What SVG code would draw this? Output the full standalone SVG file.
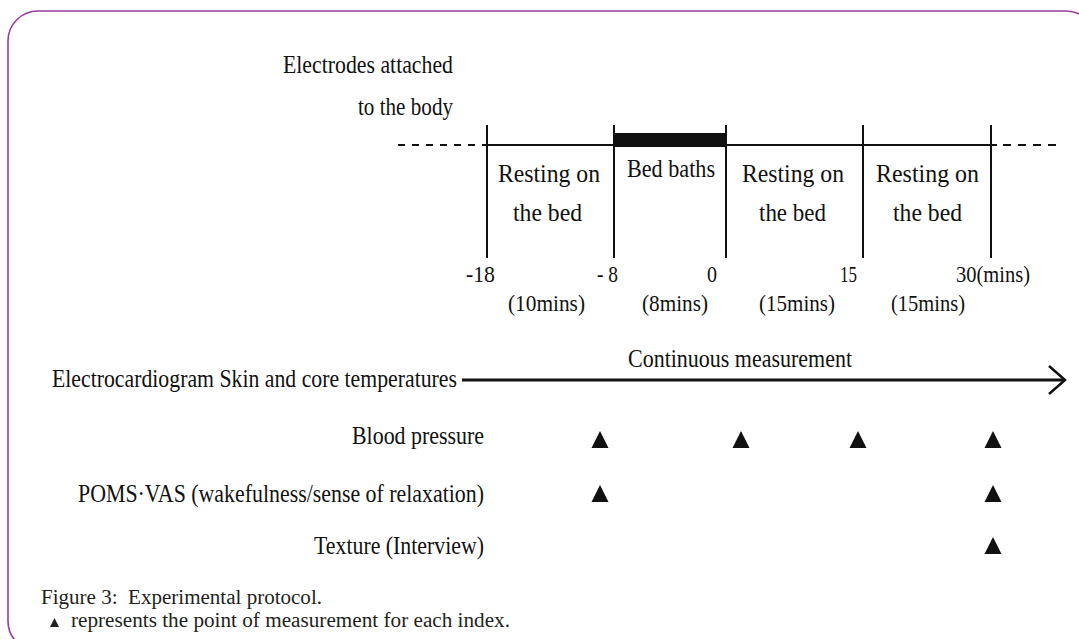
<svg xmlns="http://www.w3.org/2000/svg" width="1079" height="639" viewBox="0 0 1079 639">
<style>
  .t { font-family: "Liberation Serif", "Times New Roman", serif; font-size: 26px; fill: #111; }
  .n { font-family: "Liberation Serif", "Times New Roman", serif; font-size: 24px; fill: #111; }
  .cap { font-family: "Liberation Serif", "Times New Roman", serif; font-size: 20px; fill: #231f20; white-space: pre; }
  .ln { stroke: #111; stroke-width: 2; fill: none; }
  .dash { stroke: #111; stroke-width: 2; fill: none; }
  .tri { fill: #111; }
  .frame { fill: #fff; stroke: #9b3b9e; stroke-width: 1.6; }
</style>
<rect x="0" y="0" width="1079" height="639" fill="#fff"/>
<rect class="frame" x="8" y="11" width="1088" height="640" rx="30" ry="30"/>

<g id="connectors">
  <line class="dash" x1="398" y1="145" x2="487" y2="145" stroke-dasharray="7 7"/>
  <line class="dash" x1="1003" y1="145" x2="1062" y2="145" stroke-dasharray="8 7"/>
  <line class="ln" x1="487" y1="145" x2="997" y2="145"/>
  <rect x="614" y="133" width="112" height="14" fill="#111"/>
  <line class="ln" x1="487" y1="125" x2="487" y2="258"/>
  <line class="ln" x1="614" y1="125" x2="614" y2="258"/>
  <line class="ln" x1="726" y1="125" x2="726" y2="258"/>
  <line class="ln" x1="863" y1="125" x2="863" y2="258"/>
  <line class="ln" x1="991" y1="125" x2="991" y2="258"/>
  <line x1="462" y1="380" x2="1064" y2="380" stroke="#111" stroke-width="3"/>
  <polyline points="1049,366 1065,380 1049,394" fill="none" stroke="#111" stroke-width="2.5"/>
</g>

<g id="electrodes">
  <text class="t" x="283" y="73" textLength="170" lengthAdjust="spacingAndGlyphs">Electrodes attached</text>
  <text class="t" x="358" y="115" textLength="95" lengthAdjust="spacingAndGlyphs">to the body</text>
</g>

<g id="phase-rest1">
  <text class="t" x="498" y="182" textLength="102" lengthAdjust="spacingAndGlyphs">Resting on</text>
  <text class="t" x="513" y="221" textLength="69" lengthAdjust="spacingAndGlyphs">the bed</text>
</g>
<g id="phase-bath">
  <text class="t" x="627" y="177" textLength="88" lengthAdjust="spacingAndGlyphs">Bed baths</text>
</g>
<g id="phase-rest2">
  <text class="t" x="742" y="182" textLength="102" lengthAdjust="spacingAndGlyphs">Resting on</text>
  <text class="t" x="759" y="221" textLength="67" lengthAdjust="spacingAndGlyphs">the bed</text>
</g>
<g id="phase-rest3">
  <text class="t" x="876" y="182" textLength="103" lengthAdjust="spacingAndGlyphs">Resting on</text>
  <text class="t" x="893" y="221" textLength="69" lengthAdjust="spacingAndGlyphs">the bed</text>
</g>

<g id="ticks">
  <text class="n" x="466" y="282" textLength="29" lengthAdjust="spacingAndGlyphs">-18</text>
  <text class="n" x="597" y="282" textLength="21" lengthAdjust="spacingAndGlyphs">- 8</text>
  <text class="n" x="707" y="282" textLength="10" lengthAdjust="spacingAndGlyphs">0</text>
  <text class="n" x="840" y="282" textLength="17" lengthAdjust="spacingAndGlyphs">15</text>
  <text class="n" x="956" y="282" textLength="74" lengthAdjust="spacingAndGlyphs">30(mins)</text>
</g>
<g id="durations">
  <text class="n" x="508" y="311" textLength="77" lengthAdjust="spacingAndGlyphs">(10mins)</text>
  <text class="n" x="642" y="311" textLength="66" lengthAdjust="spacingAndGlyphs">(8mins)</text>
  <text class="n" x="759" y="311" textLength="76" lengthAdjust="spacingAndGlyphs">(15mins)</text>
  <text class="n" x="891" y="311" textLength="74" lengthAdjust="spacingAndGlyphs">(15mins)</text>
</g>

<g id="continuous">
  <text class="t" x="52" y="387" textLength="405" lengthAdjust="spacingAndGlyphs">Electrocardiogram Skin and core temperatures</text>
  <text class="t" x="628" y="367" textLength="224" lengthAdjust="spacingAndGlyphs">Continuous measurement</text>
</g>

<g id="blood-pressure">
  <text class="t" x="352" y="444" textLength="132" lengthAdjust="spacingAndGlyphs">Blood pressure</text>
  <polygon class="tri" points="600,431 608.5,448 591.5,448"/>
  <polygon class="tri" points="741,431 749.5,448 732.5,448"/>
  <polygon class="tri" points="858,431 866.5,448 849.5,448"/>
  <polygon class="tri" points="993,431 1001.5,448 984.5,448"/>
</g>
<g id="poms-vas">
  <text class="t" x="78" y="502" textLength="406" lengthAdjust="spacingAndGlyphs">POMS·VAS (wakefulness/sense of relaxation)</text>
  <polygon class="tri" points="600,485 608.5,502 591.5,502"/>
  <polygon class="tri" points="993,485 1001.5,502 984.5,502"/>
</g>
<g id="texture">
  <text class="t" x="314" y="554" textLength="170" lengthAdjust="spacingAndGlyphs">Texture (Interview)</text>
  <polygon class="tri" points="993,537 1001.5,554 984.5,554"/>
</g>

<g id="caption">
  <text class="cap" x="41" y="604" textLength="281" lengthAdjust="spacingAndGlyphs">Figure 3:  Experimental protocol.</text>
  <polygon points="54.5,618 59,627 50,627" fill="#231f20"/>
  <text class="cap" x="71" y="627" textLength="439" lengthAdjust="spacingAndGlyphs">represents the point of measurement for each index.</text>
</g>
</svg>
